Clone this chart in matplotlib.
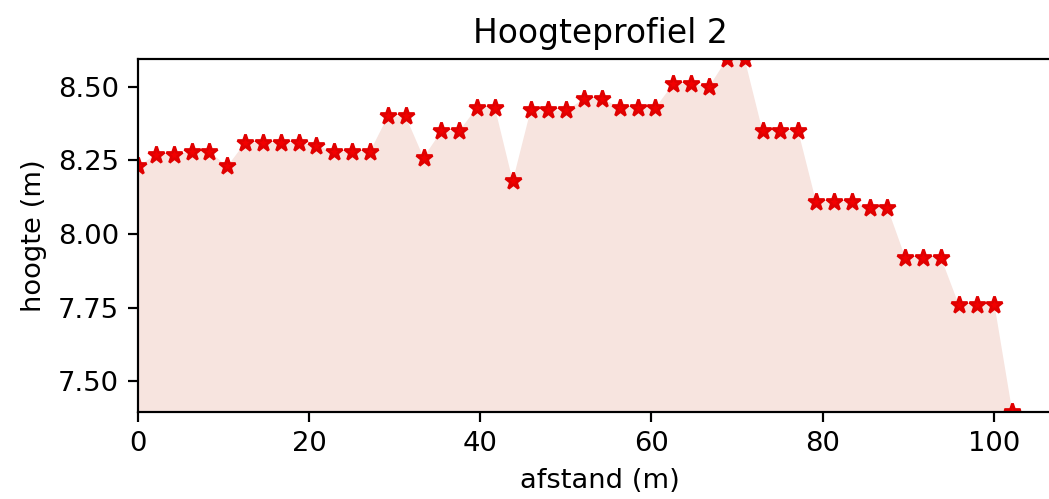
import matplotlib
matplotlib.use("Agg")
import matplotlib.pyplot as plt

afstand = [0.0, 2.09, 4.17, 6.26, 8.34, 10.43, 12.51, 14.6, 16.68, 18.77,
           20.85, 22.94, 25.02, 27.11, 29.19, 31.28, 33.36, 35.45, 37.53, 39.62,
           41.7, 43.79, 45.87, 47.96, 50.04, 52.13, 54.21, 56.3, 58.38, 60.47,
           62.55, 64.64, 66.72, 68.81, 70.89, 72.98, 75.06, 77.15, 79.23, 81.32,
           83.4, 85.49, 87.57, 89.66, 91.74, 93.83, 95.91, 98.0, 100.08, 102.17]
hoogte = [8.23, 8.27, 8.27, 8.28, 8.28, 8.23, 8.31, 8.31, 8.31, 8.31,
          8.30, 8.28, 8.28, 8.28, 8.40, 8.40, 8.26, 8.35, 8.35, 8.43,
          8.43, 8.18, 8.42, 8.42, 8.42, 8.46, 8.46, 8.43, 8.43, 8.43,
          8.51, 8.51, 8.50, 8.595, 8.595, 8.35, 8.35, 8.35, 8.11, 8.11,
          8.11, 8.09, 8.09, 7.92, 7.92, 7.92, 7.76, 7.76, 7.76, 7.395]

DPI = 197
fig = plt.figure(figsize=(1049 / DPI, 499 / DPI), dpi=DPI)
ax = fig.add_axes([0.1316, 0.1743, 0.881, 0.7075])
ax.fill_between(afstand, min(hoogte) - 1, hoogte, color='#f7e4df', linewidth=0)
ax.plot(afstand, hoogte, '*', color='#f20000', markeredgecolor='#e00000',
        markersize=6.4)
ax.set_xlim(0, 108)
ax.set_ylim(min(hoogte), max(hoogte))
ax.set_xticks([0, 20, 40, 60, 80, 100])
ax.set_yticks([7.5, 7.75, 8.0, 8.25, 8.5])
ax.set_yticklabels(['7.50', '7.75', '8.00', '8.25', '8.50'])
ax.set_xlabel('afstand (m)')
ax.set_ylabel('hoogte (m)')
ax.set_title('Hoogteprofiel 2')
fig.savefig('out.png', dpi=DPI)
